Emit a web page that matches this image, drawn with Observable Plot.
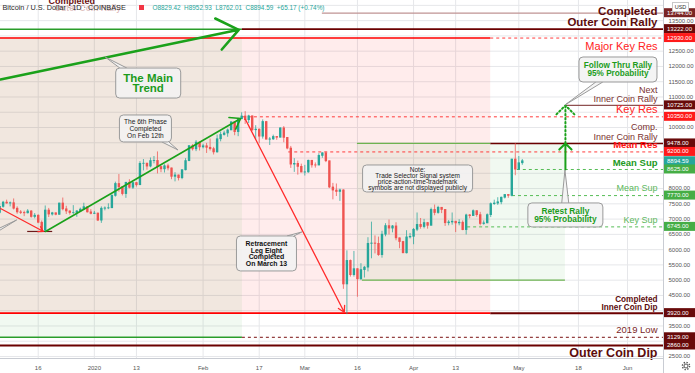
<!DOCTYPE html>
<html><head><meta charset="utf-8">
<script src="https://cdn.jsdelivr.net/npm/d3@7"></script>
<script src="https://cdn.jsdelivr.net/npm/@observablehq/plot@0.6"></script>
<style>
html,body{margin:0;padding:0;background:#fff;}
#chart svg{display:block;}
</style></head><body><div id="chart"></div>
<script>
// ---------- DATA ----------
const firstDay = "2019-12-05"; // daily candles from this date
const opens = [
7200,7400,7540,7510,7520,7340,7220,7200,7190,7250,7070,7110,6880,6620,7280,7150,7190,7140,7510,7320,7250,7200,7200,7250,7310,7390,7220,
7170,7180,6950,7340,7350,7355,7760,8150,8045,7820,8190,8025,8180,8110,8810,8815,8720,8900,8905,8705,8630,8730,8660,8385,8430,8340,8600,8900,9390,9285,9505,
9350,9385,9335,9290,9185,9615,9755,9805,9905,10170,9850,10270,10360,10240,10365,9910,9930,9700,10180,9600,9610,9690,9665,9970,9660,9310,8785,8810,8710,
8525,8530,8910,8760,8755,9070,9155,8895,8035,7935,7890,7940,4860,5630,5165,5360,5030,5330,5410,6190,6200,6190,5820,6490,6770,6690,6760,6370,6250,5880,6400,
6420,6650,6810,6740,6870,6780,7300,7200,7370,7300,6865,6890,6915,6860,6880,6640,7120,7100,7260,7130,6840,6860,7130,7490,7510,7550,7700,7790,7760,8950,
8620,8829.42];
const highs = [
7490,7580,7620,7560,7660,7400,7280,7260,7310,7280,7180,7140,6940,7430,7350,7220,7200,7520,7690,7420,7270,7440,7280,7360,7520,7400,7310,
7250,7200,7400,7400,7500,7800,8210,8460,8050,8200,8290,8190,8200,8880,8950,8830,9000,9050,9200,8730,8780,8800,8670,8520,8440,8620,8980,9400,9440,9570,9520,
9450,9480,9620,9350,9750,9850,9880,9950,10180,10190,10300,10480,10520,10400,10380,10060,9950,10250,10200,9670,9750,9700,9990,10030,9670,9380,8980,8900,8800,
8760,8930,8920,8840,9140,9170,9190,8900,8170,8150,7980,7960,5960,5660,5940,5370,5540,5450,6390,6900,6450,6410,6600,6850,6970,6790,6880,6380,6270,6620,6530,
6690,7200,7020,6990,6890,7360,7460,7420,7380,7310,6950,7200,6920,6980,6940,7160,7150,7300,7270,7220,6940,7170,7530,7620,7700,7720,7800,7800,8960,9470,
9050,8952.93];
const lows = [
7160,7360,7490,7400,7300,7160,7150,7080,7170,7030,7010,6850,6560,6560,7050,7100,7110,7130,7270,7150,7130,7150,7060,7240,7300,7200,7140,
7150,6920,6860,7270,7310,7350,7720,7880,7760,7680,7990,7970,8050,8100,8580,8600,8680,8810,8480,8520,8510,8580,8290,8220,8250,8290,8580,8880,9230,9210,9230,
9300,9150,9230,9100,9160,9530,9720,9680,9900,9730,9700,10260,10100,10130,9870,9600,9470,9620,9600,9410,9580,9580,9660,9500,9270,8660,8530,8440,8520,
8410,8500,8670,8670,8750,8990,8850,8000,7630,7740,7580,4700,3870,5100,5100,4440,4990,5070,5270,5700,5860,5780,5720,6420,6480,6550,6290,6030,5870,5860,6350,
6160,6590,6670,6680,6670,6780,7110,7160,7180,6760,6780,6800,6560,6780,6620,6480,7010,7090,7060,6780,6800,6850,7050,7450,7450,7470,7660,7680,7730,8420,
8600,8762.01];
const closes = [
7400,7540,7510,7520,7340,7220,7200,7190,7250,7070,7110,6880,6620,7280,7150,7190,7140,7510,7320,7250,7200,7200,7250,7310,7390,7220,7170,
7180,6950,7340,7350,7355,7760,8150,8045,7820,8190,8025,8180,8110,8810,8815,8720,8900,8905,8705,8630,8730,8660,8385,8430,8340,8600,8900,9390,9285,9505,9350,
9385,9335,9290,9185,9615,9755,9805,9905,10170,9850,10270,10360,10240,10365,9910,9930,9700,10180,9600,9610,9690,9665,9970,9660,9310,8785,8810,8710,8525,
8530,8910,8760,8755,9070,9155,8895,8035,7935,7890,7940,4860,5630,5165,5360,5030,5330,5410,6190,6200,6190,5820,6490,6770,6690,6760,6370,6250,5880,6400,6420,
6650,6810,6740,6870,6780,7300,7200,7370,7300,6865,6890,6915,6860,6880,6640,7120,7100,7260,7130,6840,6860,7130,7490,7510,7550,7700,7790,7760,8950,8620,
8829.42,8894.59];

// visible window
const viewStart = "2019-12-05T06:00Z", viewEnd = "2020-06-11T06:00Z";
const priceMin = 2434, priceMax = 14160;

// axis ticks
const xTickDates = ["2019-12-16","2020-01-01","2020-01-13","2020-02-01","2020-02-17","2020-03-01","2020-03-16","2020-04-01","2020-04-13","2020-05-01","2020-05-18","2020-06-01"];
const xTickLabels = ["16","2020","13","Feb","17","Mar","16","Apr","13","May","18","Jun"];
const gridPrices = [2500,3000,3500,4000,4500,5000,5500,6000,6500,7000,7500,8000,8500,9000,9500,10000,10500,11000,11500,12000,12500,13000,13500,14000];
const yTickLabels = [2500,3500,4500,5000,5500,6000,6500,7000,7500,8000,10000,11000,11500,12000,12500,13500];

// price level segments (null = chart edge)
const levelPrices = [13744,13222,13222,12930,12930,10725,10350,9478,9478,9200,8625,7770,6745,5000,3920,3920,3129,3129,2860,6595];
const levelFrom = ["2020-03-06",null,"2020-02-12T05:00Z",null,"2020-04-23","2020-05-14T07:00Z","2020-02-12T05:00Z","2020-03-16","2020-04-23","2020-02-25T10:00Z","2020-04-30T14:00Z","2020-04-29T05:00Z","2020-04-16T10:00Z","2020-03-17T10:00Z",null,"2020-04-23",null,"2020-02-12T05:00Z",null,"2019-12-13"];
const levelTo = [null,"2020-02-12T05:00Z",null,"2020-04-23",null,null,null,"2020-04-23",null,null,null,null,null,"2020-05-14T07:00Z","2020-04-23",null,"2020-02-12T05:00Z",null,null,"2019-12-20T03:00Z"];
const levelKinds = ["faint","green","maroon","red","redDash","brown","redDash","greenSolid","maroon","redDash","greenDash","greenDash","greenDash","greenSolid","red","maroonThick","green","maroonDash","maroonThick","darkShort"];

// shaded zones
const zoneFrom = [null,null,"2020-03-16"];
const zoneTo = ["2020-04-23","2020-02-12T05:00Z","2020-05-14T07:00Z"];
const zoneLow = [3920,3129,5000];
const zoneHigh = [12930,12930,9478];
const zoneKinds = ["pink","green","green"];

// arrows
const arrowFrom = [viewStart,"2019-12-18T02:00Z",viewStart,"2020-02-13T02:00Z","2020-05-14T07:00Z","2020-05-14T07:00Z"];
const arrowFromPrice = [11573,6595,7348,10263,8625,9478];
const arrowTo = ["2020-02-11T04:00Z","2020-02-11T17:00Z","2019-12-17T12:00Z","2020-03-12T06:00Z","2020-05-14T07:00Z","2020-05-14T07:00Z"];
const arrowToPrice = [13200,10296,6595,3950,9478,10725];
const arrowKinds = ["trend","phase","red","redLong","upSolid","upDotted"];

// right-hand labels
const labelTexts = ["Completed","Outer Coin Rally","Major Key Res","Next","Inner Coin Rally","Key Res","Comp.","Inner Coin Rally","Mean Res","Mean Sup","Mean Sup","Key Sup","Completed","Inner Coin Dip","2019 Low","Outer Coin Dip"];
const labelPrices = [13790,13445,12654,11218,10946,10590,10006,9701,9440,8855,8003,6971,4355,4106,3369,2616];
const labelKinds = ["head","head","keyRes","note","note","keyRes","note","note","meanRes","meanSupBold","meanSup","meanSup","dipHead","dipHead","low","foot"];

// price tags on axis
const tagPrices = [13744,13222,12930,10725,10350,9478,9200,8894.59,8625,7770,6745,3920,3129,2860];
const tagKinds = ["maroonSoft","maroon","red","maroon","red","maroon","red","teal","green","green","green","maroon","maroon","maroon"];

// callouts
const calloutTexts = [["The Main","Trend"],["The 6th Phase","Completed","On Feb 12th"],["Retracement","Leg Eight","Completed","On March 13"],["Note:","Trade Selector Signal system","price-action-time-trademark","symbols are not displayed publicly"],["Follow Thru Rally","95% Probability"],["Retest Rally","95% Probability"],[]];
const calloutDates = ["2020-01-16T12:00Z","2020-01-15T17:00Z","2020-02-19T05:00Z","2020-04-02T07:00Z","2020-05-29T10:00Z","2020-05-14T10:00Z","2019-11-26T14:00Z"];
const calloutPrices = [11440,9952,5858,8314,11884,7119,5972];
const tipDates = ["2020-01-04T06:00Z","2020-01-25T00:00Z","2020-02-29T07:00Z",null,"2020-05-14T07:00Z","2020-05-14T07:00Z","2019-12-10T00:00Z"];
const tipPrices = [12290,9247,6562,null,10721,8590,6955];

// ---------- BUILD ----------
const t = s => new Date(s.length === 10 ? s + "T00:00Z" : s);
const X0 = t(viewStart), X1 = t(viewEnd);
const candles = closes.map((c, i) => ({
  date: d3.utcDay.offset(t(firstDay), i), open: opens[i], high: highs[i], low: lows[i], close: c
}));
const levels = levelPrices.map((p, i) => ({price: p, from: levelFrom[i] ? t(levelFrom[i]) : X0, to: levelTo[i] ? t(levelTo[i]) : X1, kind: levelKinds[i]}));
const zones = zoneKinds.map((k, i) => ({kind: k, from: zoneFrom[i] ? t(zoneFrom[i]) : X0, to: t(zoneTo[i]), low: zoneLow[i], high: zoneHigh[i]}));
const arrows = arrowKinds.map((k, i) => ({kind: k, x1: t(arrowFrom[i]), y1: arrowFromPrice[i], x2: t(arrowTo[i]), y2: arrowToPrice[i]}));
const labels = labelTexts.map((s, i) => ({text: s, price: labelPrices[i], kind: labelKinds[i]}));

const lineStyle = {
  faint: {stroke: "#bf9393", w: 1.2},
  green: {stroke: "#2a9d2a", w: 1.5},
  maroon: {stroke: "#6b0000", w: 1.6},
  maroonThick: {stroke: "#6b0000", w: 2},
  red: {stroke: "#ff0000", w: 1.6},
  redDash: {stroke: "#ff3b3b", w: 1, dash: "3,3"},
  brown: {stroke: "#8f5050", w: 1.3},
  greenSolid: {stroke: "#6db350", w: 1.3},
  greenDash: {stroke: "#56bd56", w: 1, dash: "3,3"},
  maroonDash: {stroke: "#7a1010", w: 1, dash: "3,3"},
  darkShort: {stroke: "#6b1a1a", w: 1.2}
};
const arrowStyle = {
  trend: {stroke: "#1aa11a", w: 2.6, head: 15, angle: 75},
  phase: {stroke: "#1aa11a", w: 1.6, head: 11, angle: 70},
  red: {stroke: "#ff2a2a", w: 1.2, head: 7, angle: 60},
  redLong: {stroke: "#ff2a2a", w: 1.3, head: 8, angle: 60},
  upSolid: {stroke: "#1aa11a", w: 2, head: 11, angle: 90},
  upDotted: {stroke: "#1aa11a", w: 2, head: 11, angle: 90, dash: "1.5,2.5"}
};
const labelStyle = {
  head: {size: 11.5, weight: "bold", fill: "#5c0c0c"},
  keyRes: {size: 11, weight: "normal", fill: "#ff2222"},
  note: {size: 9, weight: "normal", fill: "#7a3030"},
  meanRes: {size: 9.5, weight: "bold", fill: "#ff1010"},
  meanSupBold: {size: 9.5, weight: "bold", fill: "#229922"},
  meanSup: {size: 9, weight: "normal", fill: "#5cb85c"},
  dipHead: {size: 8.2, weight: "bold", fill: "#5c0c0c"},
  low: {size: 9.5, weight: "normal", fill: "#7a1f1f"},
  foot: {size: 12.5, weight: "bold", fill: "#5c0c0c"}
};
const up = "#26a69a", down = "#ef5350";
const last = candles[candles.length - 1], prev = candles[candles.length - 2];
const chg = last.close - prev.close;
const ohlcText = `O${last.open.toFixed(2)}  H${last.high.toFixed(2)}  L${last.low.toFixed(2)}  C${last.close.toFixed(2)}  ${chg >= 0 ? "+" : ""}${chg.toFixed(2)} (${chg >= 0 ? "+" : ""}${(chg / prev.close * 100).toFixed(2)}%)`;

const marks = [
  Plot.ruleY(gridPrices, {y: d => d, stroke: "#e6e7ea", strokeWidth: 1}),
  Plot.ruleX(xTickDates, {x: d => t(d), stroke: "#e6e7ea", strokeWidth: 1}),
  Plot.rect(zones.filter(z => z.kind === "pink"), {x1: "from", x2: "to", y1: "low", y2: "high", fill: "#ff0000", fillOpacity: 0.075}),
  Plot.rect(zones.filter(z => z.kind === "green"), {x1: "from", x2: "to", y1: "low", y2: "high", fill: "#4caf50", fillOpacity: 0.08})
];
for (const k of Object.keys(lineStyle)) {
  const s = lineStyle[k];
  marks.push(Plot.ruleY(levels.filter(d => d.kind === k), {y: "price", x1: "from", x2: "to", stroke: s.stroke, strokeWidth: s.w, strokeDasharray: s.dash}));
}
marks.push(
  Plot.ruleX(candles, {x: "date", y1: "low", y2: "high", stroke: d => d.close >= d.open ? up : down, strokeWidth: 1, strokeOpacity: 0.75}),
  Plot.ruleX(candles, {x: "date", y1: d => Math.min(d.open, d.close) - 12, y2: d => Math.max(d.open, d.close) + 12, stroke: d => d.close >= d.open ? up : down, strokeWidth: 2.4})
);
for (const k of Object.keys(arrowStyle)) {
  const s = arrowStyle[k];
  marks.push(Plot.arrow(arrows.filter(d => d.kind === k), {x1: "x1", y1: "y1", x2: "x2", y2: "y2", stroke: s.stroke, strokeWidth: s.w, headLength: s.head, headAngle: s.angle, strokeDasharray: s.dash, strokeLinecap: "round"}));
}
for (const k of Object.keys(labelStyle)) {
  const s = labelStyle[k];
  marks.push(Plot.text(labels.filter(d => d.kind === k), {y: "price", text: "text", frameAnchor: "right", dx: -6, textAnchor: "end", lineAnchor: "middle", fontSize: s.size, fontWeight: s.weight, fill: s.fill}));
}
marks.push(
  Plot.text(yTickLabels, {y: d => d, text: d => d.toFixed(2), frameAnchor: "right", dx: 5, textAnchor: "start", lineAnchor: "middle", fontSize: 6, fill: "#555"}),
  Plot.text(xTickDates, {x: d => t(d), text: (d, i) => xTickLabels[i], frameAnchor: "bottom", lineAnchor: "middle", dy: 9.5, fontSize: 6, fill: "#555"}),
  Plot.text(["Completed"], {frameAnchor: "top-left", lineAnchor: "middle", dx: 48, dy: 0.5, text: d => d, fontSize: 9, fontWeight: "bold", fill: "#6a1010"}),
  Plot.text(["Outer Coin Rally"], {frameAnchor: "top-left", lineAnchor: "middle", dx: 54, dy: 7.5, text: d => d, fontSize: 8.5, fontWeight: "bold", fill: "#a04848", fillOpacity: 0.35}),
  Plot.text(["Bitcoin / U.S. Dollar · 1D · COINBASE"], {frameAnchor: "top-left", lineAnchor: "middle", dx: 2, dy: 7.5, text: d => d, textAnchor: "start", fontSize: 7.3, fill: "#2a2a2a"}),
  Plot.text([ohlcText], {frameAnchor: "top-left", lineAnchor: "middle", dx: 152, dy: 7.5, text: d => d, textAnchor: "start", fontSize: 6.4, fill: "#26a69a"})
);

const plot = Plot.plot({
  width: 695, height: 373,
  marginLeft: 0, marginRight: 32, marginTop: 0, marginBottom: 15,
  style: {fontFamily: "'Liberation Sans', Arial, sans-serif", background: "#fff", overflow: "hidden"},
  x: {type: "utc", domain: [X0, X1], axis: null},
  y: {domain: [priceMin, priceMax], axis: null},
  marks
});
document.getElementById("chart").appendChild(plot);

// ---------- decorations using Plot's scales ----------
const svg = d3.select(plot);
const X = plot.scale("x"), Y = plot.scale("y");
const frameW = 663, frameH = 358;

svg.append("defs").append("clipPath").attr("id", "clipPlot").append("rect").attr("x", 0).attr("y", 0).attr("width", frameW).attr("height", frameH);

const calloutStyle = [
  {w: 65, h: 30, size: 11.5, weight: "bold", fill: "#1c9c1c", lh: 10.5},
  {w: 52, h: 27, size: 6.6, weight: "normal", fill: "#222", lh: 6.9},
  {w: 60, h: 35, size: 6.9, weight: "bold", fill: "#111", lh: 6.9},
  {w: 110, h: 27, size: 6.5, weight: "normal", fill: "#222", lh: 6.2},
  {w: 78, h: 25, size: 8.2, weight: "bold", fill: "#1c9c1c", lh: 8},
  {w: 75, h: 24, size: 8.4, weight: "bold", fill: "#1c9c1c", lh: 8.2},
  {w: 50, h: 30, size: 7, weight: "normal", fill: "#222", lh: 6}
];
const cg = svg.append("g").attr("clip-path", "url(#clipPlot)");
const boxFill = "rgba(242,242,242,0.88)", boxStroke = "#9a9a9a";
calloutTexts.forEach((lines, i) => {
  const st = calloutStyle[i];
  const cx = X.apply(t(calloutDates[i])), cy = Y.apply(calloutPrices[i]);
  const w = st.w, h = st.h;
  if (tipDates[i]) {
    const tx = X.apply(t(tipDates[i])), ty = Y.apply(tipPrices[i]);
    const dx = tx - cx, dy = ty - cy;
    let pts;
    if (Math.abs(dx) * (h / 2) > Math.abs(dy) * (w / 2)) {
      const bx = cx + Math.sign(dx) * w / 2;
      let by = cy + dy * (w / 2) / Math.abs(dx);
      by = Math.max(cy - h / 2 + 5, Math.min(cy + h / 2 - 5, by));
      pts = [[bx, by - 3.5], [tx, ty], [bx, by + 3.5]];
    } else {
      const by = cy + Math.sign(dy) * h / 2;
      let bx = cx + dx * (h / 2) / Math.abs(dy);
      bx = Math.max(cx - w / 2 + 6, Math.min(cx + w / 2 - 6, bx));
      pts = [[bx - 3.5, by], [tx, ty], [bx + 3.5, by]];
    }
    cg.append("path").attr("d", "M" + pts.map(p => p.join(",")).join("L")).attr("fill", boxFill).attr("stroke", boxStroke).attr("stroke-width", 1);
  }
  cg.append("rect").attr("x", cx - w / 2).attr("y", cy - h / 2).attr("width", w).attr("height", h)
    .attr("rx", 4).attr("fill", boxFill).attr("stroke", boxStroke).attr("stroke-width", 1);
  const n = lines.length;
  lines.forEach((s, j) => {
    cg.append("text").attr("x", cx).attr("y", cy + (j - (n - 1) / 2) * st.lh)
      .attr("text-anchor", "middle").attr("dominant-baseline", "central")
      .attr("font-family", "'Liberation Sans', Arial, sans-serif")
      .attr("font-size", st.size).attr("font-weight", st.weight).attr("fill", st.fill).text(s);
  });
});

// axis borders
svg.append("line").attr("x1", frameW + 0.5).attr("x2", frameW + 0.5).attr("y1", 0).attr("y2", 373).attr("stroke", "#c9ccd3");
svg.append("line").attr("x1", 0).attr("x2", frameW).attr("y1", frameH + 0.5).attr("y2", frameH + 0.5).attr("stroke", "#c9ccd3");

// price tags
const tagColor = {maroonSoft: "#7a2424", maroon: "#680a0a", red: "#ff1a1a", teal: "#26a69a", green: "#45ad45"};
tagPrices.forEach((p, i) => {
  const y = Y.apply(p);
  svg.append("rect").attr("x", frameW + 1).attr("y", y - 4.5).attr("width", 31).attr("height", 9).attr("fill", tagColor[tagKinds[i]]);
  svg.append("text").attr("x", frameW + 4).attr("y", y).attr("text-anchor", "start").attr("dominant-baseline", "central")
    .attr("font-family", "'Liberation Sans', Arial, sans-serif").attr("font-size", 6).attr("fill", "#fff").text(p.toFixed(2));
});

// USD box, header square, gear
svg.append("rect").attr("x", 672.5).attr("y", 2.5).attr("width", 16).attr("height", 9).attr("fill", "#fff").attr("stroke", "#c8c8c8");
svg.append("text").attr("x", 680.5).attr("y", 7.2).attr("text-anchor", "middle").attr("dominant-baseline", "central")
  .attr("font-family", "'Liberation Sans', Arial, sans-serif").attr("font-size", 5.5).attr("fill", "#333").text("USD");
svg.append("rect").attr("x", 139).attr("y", 5).attr("width", 5).attr("height", 5).attr("fill", "#f23645");
svg.append("circle").attr("cx", 686).attr("cy", 366).attr("r", 2).attr("fill", "none").attr("stroke", "#555").attr("stroke-width", 1);
svg.append("circle").attr("cx", 686).attr("cy", 366).attr("r", 3.6).attr("fill", "none").attr("stroke", "#555").attr("stroke-width", 1.4).attr("stroke-dasharray", "1.4,1.43");
</script>
</body></html>
